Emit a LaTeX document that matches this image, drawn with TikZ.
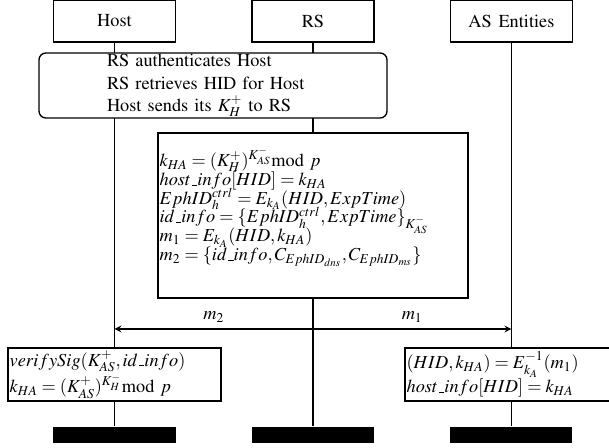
\documentclass[tikz,border=0pt]{standalone}
\usepackage[OT1]{fontenc}
\usepackage{mathptmx}
\usepackage{tikz}
\usetikzlibrary{positioning}
\usetikzlibrary{arrows}
\usetikzlibrary{backgrounds}

\begin{document}
\begin{tikzpicture}[
            > = stealth, % arrow head style
            x = 0.585pt, y = -0.585pt, % one unit per pixel
            thick, % line style
            every on background layer/.style = {thick},
            font = {\fontsize{10.7}{12.9}\selectfont\spaceskip 4pt\relax}
        ]

        \tikzstyle{entity}=[
            draw,
            fill = white,
            minimum width = 71.4pt,
            minimum height = 24.6pt
        ]
        \tikzstyle{step box}=[
            draw,
            fill = white,
            align = left,
            inner xsep = 1pt,
            inner ysep = 0pt
        ]
        \tikzstyle{end bar}=[
            fill = black,
            inner sep = 0pt,
            minimum width = 71.4pt,
            minimum height = 9.4pt
        ]

        \useasboundingbox (0,0) rectangle (609,448);

	% ENTITIES
        \node[entity] (Host) at (114.5,21) {Host};
        \node[entity] (RS) [right = 43.9pt of Host] {RS};
        \node[entity] (AS) [right = 43.9pt of RS] {AS Entities};

	% END OF LIFELINES
        \coordinate (bars) at (0,435);
        \node[end bar] (HostEnd) at (Host |- bars) {};
        \node[end bar] (RSEnd) at (RS |- bars) {};
        \node[end bar] (ASEnd) at (AS |- bars) {};

	% REGISTRATION
        \node[step box, rounded corners, inner xsep = 39.8pt, text width = 124pt, minimum height = 38pt] (Auth) at (213,85.5)
            {RS authenticates Host\\ RS retrieves HID for Host\\ Host sends its $K_H^+$ to RS};

	% RS COMPUTATIONS (frame is drawn behind, see below)
        \node[align = left, text width = 179.4pt, inner xsep = 1pt, inner ysep = 0pt,
              font = {\fontsize{10.7}{11}\selectfont\lineskiplimit -5pt\relax}] (RSwork) at (RS |- 0,207)
            {$k_{HA} = (K_H^+)^{K_{AS}^-}\mathrm{mod}~p$\\
             $host\_info[HID] = k_{HA}$\\
             $EphID_h^{ctrl} = E_{k_A}(HID, ExpTime)$\\
             $id\_info = \{EphID_h^{ctrl}, ExpTime\}_{K_{AS}^-}$\\
             $m_1 = E_{k_A}(HID, k_{HA})$\\
             $m_2 =\{id\_info, C_{EphID_{dns}}, C_{EphID_{ms}}\}$};

	% MESSAGES
        \coordinate (msg) at (0,329);
        \draw[->] (RS |- msg) -- node[above] {$m_2$} (Host |- msg);
        \draw[->] (RS |- msg) -- node[above] {$m_1$} (AS |- msg);

	% CHECKS ON BOTH ENDS
        \node[step box, text width = 122.6pt, minimum height = 31pt] (HostCheck) at (Host |- 0,374.5)
            {$verifySig(K_{AS}^+, id\_info)$\\
             $k_{HA} = (K_{AS}^+)^{K_H^-}\mathrm{mod}~p$};
        \node[step box, text width = 122.6pt, minimum height = 31pt] (ASCheck) at (AS |- 0,374.5)
            {$(HID, k_{HA}) = E_{k_A}^{-1}(m_1)$\\
             $host\_info[HID] = k_{HA}$};

       	\begin{scope}[on background layer]
        \draw (Host) -- (HostEnd);
        \draw (RS) -- (RSEnd);
        \draw (AS) -- (ASEnd);
        \node[draw, fill = white, minimum width = 181.4pt, minimum height = 96.5pt] (RSframe) at (RS |- 0,215.5) {};
	  \end{scope}

  \end{tikzpicture}
\end{document}
